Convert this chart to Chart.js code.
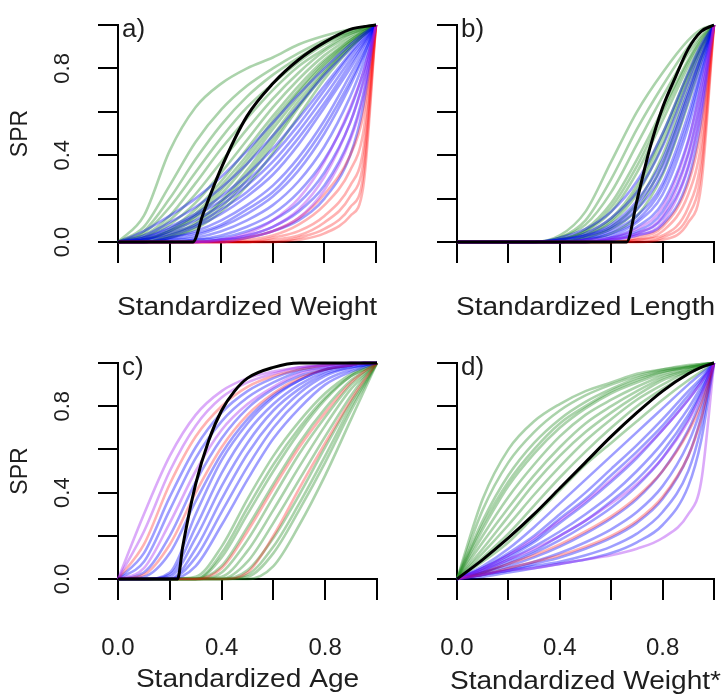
<!DOCTYPE html>
<html><head><meta charset="utf-8">
<script src="https://cdn.jsdelivr.net/npm/chart.js@4.4.1/dist/chart.umd.min.js"></script>
<style>
html,body{margin:0;padding:0;background:#fff;width:725px;height:700px;overflow:hidden;}
canvas{position:absolute;}
</style></head><body>
<canvas id="pa" width="380" height="330" style="left:0px;top:0px"></canvas>
<canvas id="pb" width="345" height="330" style="left:380px;top:0px"></canvas>
<canvas id="pc" width="380" height="360" style="left:0px;top:340px"></canvas>
<canvas id="pd" width="345" height="360" style="left:380px;top:340px"></canvas>
<script>
// ---------- shared grid and tick labels ----------
const xGrid = [0,0.1,0.2,0.3,0.4,0.5,0.6,0.7,0.8,0.9,0.95,1];
const xTickLabelValues = [0, 0.4, 0.8];
const yTickLabelValues = [0, 0.4, 0.8];
const xTitles = ['Standardized Weight','Standardized Length','Standardized Age','Standardized Weight*'];
const panelLetters = ['a)','b)','c)','d)'];
const yTitle = 'SPR';

// ---------- panel a ----------
const aGreen = [
 [0,0.12,0.42,0.62,0.73,0.80,0.85,0.91,0.95,0.98,0.99,1],
 [0,0.07,0.26,0.46,0.61,0.72,0.80,0.87,0.93,0.97,0.99,1],
 [0,0.05,0.20,0.38,0.54,0.67,0.77,0.85,0.92,0.97,0.99,1],
 [0,0.04,0.16,0.32,0.48,0.62,0.73,0.83,0.91,0.96,0.98,1],
 [0,0.03,0.12,0.27,0.43,0.57,0.70,0.81,0.89,0.96,0.98,1],
 [0,0.02,0.10,0.22,0.37,0.52,0.66,0.78,0.88,0.95,0.98,1],
 [0,0.02,0.08,0.18,0.32,0.47,0.62,0.75,0.86,0.94,0.97,1],
 [0,0.01,0.06,0.15,0.28,0.43,0.58,0.72,0.84,0.93,0.97,1],
 [0,0.01,0.05,0.13,0.26,0.40,0.56,0.70,0.83,0.93,0.97,1],
 [0,0.01,0.05,0.12,0.24,0.38,0.54,0.69,0.82,0.92,0.96,1],
 [0,0.01,0.04,0.11,0.22,0.36,0.52,0.67,0.81,0.92,0.96,1],
 [0,0,0.03,0.09,0.19,0.33,0.49,0.65,0.79,0.91,0.96,1],
 [0,0,0.03,0.08,0.18,0.31,0.47,0.63,0.78,0.90,0.95,1],
 [0,0,0.02,0.07,0.16,0.29,0.45,0.62,0.77,0.90,0.95,1],
 [0,0,0.02,0.06,0.14,0.26,0.41,0.58,0.75,0.89,0.95,1]
];
const aBlue = [
 [0,0.05,0.12,0.20,0.30,0.42,0.55,0.68,0.80,0.91,0.96,1],
 [0,0.03,0.09,0.16,0.25,0.36,0.49,0.63,0.77,0.89,0.95,1],
 [0,0.02,0.07,0.13,0.21,0.31,0.43,0.57,0.72,0.87,0.94,1],
 [0,0.02,0.06,0.12,0.19,0.28,0.40,0.54,0.70,0.86,0.93,1],
 [0,0.01,0.05,0.10,0.17,0.26,0.37,0.51,0.67,0.84,0.92,1],
 [0,0.01,0.04,0.08,0.15,0.23,0.34,0.48,0.64,0.82,0.91,1],
 [0,0.01,0.03,0.07,0.13,0.21,0.31,0.45,0.62,0.80,0.90,1],
 [0,0,0.02,0.05,0.10,0.17,0.26,0.39,0.56,0.77,0.88,1],
 [0,0,0.02,0.04,0.08,0.15,0.23,0.36,0.53,0.74,0.86,1],
 [0,0,0.01,0.03,0.07,0.13,0.21,0.33,0.50,0.72,0.85,1],
 [0,0,0.01,0.02,0.05,0.10,0.17,0.28,0.44,0.67,0.82,1],
 [0,0,0,0.01,0.03,0.07,0.13,0.23,0.38,0.61,0.78,1],
 [0,0,0,0.01,0.02,0.05,0.10,0.18,0.32,0.55,0.74,1],
 [0,0,0,0,0.01,0.03,0.07,0.14,0.26,0.48,0.68,1],
 [0,0,0,0,0.01,0.02,0.05,0.10,0.20,0.40,0.62,1]
];
const aRed = [
 [0,0,0,0,0,0.01,0.03,0.08,0.17,0.33,0.50,1],
 [0,0,0,0,0,0,0.02,0.05,0.12,0.26,0.42,1],
 [0,0,0,0,0,0,0.01,0.03,0.09,0.21,0.36,1],
 [0,0,0,0,0,0,0,0.02,0.06,0.16,0.30,1],
 [0,0,0,0,0,0,0,0.01,0.04,0.12,0.25,1],
 [0,0,0,0,0,0.02,0.05,0.11,0.22,0.40,0.58,1]
];
const aPurple = [
 [0,0,0,0,0.01,0.03,0.07,0.15,0.30,0.55,0.73,1],
 [0,0,0,0,0,0.02,0.05,0.11,0.24,0.47,0.66,1],
 [0,0,0,0,0.01,0.04,0.10,0.20,0.37,0.62,0.78,1]
];
const aBlackX = [0,0.1,0.2,0.29,0.33,0.4,0.5,0.6,0.7,0.8,0.9,1];
const aBlackY = [0,0,0,0,0.13,0.34,0.58,0.73,0.84,0.92,0.98,1];

// ---------- panel b ----------
const bGreen = [
 [0,0,0,0,0.03,0.14,0.37,0.60,0.78,0.93,0.98,1],
 [0,0,0,0,0.02,0.10,0.29,0.52,0.72,0.90,0.97,1],
 [0,0,0,0,0.02,0.08,0.23,0.45,0.67,0.87,0.95,1],
 [0,0,0,0,0.01,0.06,0.18,0.38,0.61,0.84,0.94,1],
 [0,0,0,0,0.01,0.05,0.16,0.35,0.59,0.83,0.93,1],
 [0,0,0,0,0.01,0.05,0.14,0.32,0.56,0.81,0.92,1],
 [0,0,0,0,0.01,0.04,0.11,0.26,0.50,0.78,0.90,1],
 [0,0,0,0,0,0.03,0.10,0.24,0.48,0.77,0.90,1],
 [0,0,0,0,0,0.03,0.09,0.22,0.45,0.75,0.89,1],
 [0,0,0,0,0,0.02,0.07,0.18,0.40,0.72,0.87,1],
 [0,0,0,0,0,0.02,0.06,0.15,0.36,0.68,0.85,1],
 [0,0,0,0,0,0.01,0.04,0.12,0.31,0.64,0.83,1]
];
const bBlue = [
 [0,0,0,0,0.02,0.06,0.14,0.28,0.50,0.78,0.91,1],
 [0,0,0,0,0.01,0.04,0.11,0.23,0.44,0.74,0.89,1],
 [0,0,0,0,0.01,0.03,0.08,0.19,0.38,0.70,0.86,1],
 [0,0,0,0,0.01,0.03,0.07,0.17,0.35,0.68,0.85,1],
 [0,0,0,0,0,0.02,0.06,0.15,0.32,0.65,0.83,1],
 [0,0,0,0,0,0.01,0.05,0.12,0.27,0.59,0.80,1],
 [0,0,0,0,0,0.01,0.04,0.10,0.25,0.56,0.78,1],
 [0,0,0,0,0,0.01,0.03,0.09,0.22,0.53,0.76,1],
 [0,0,0,0,0,0,0.02,0.07,0.18,0.47,0.72,1],
 [0,0,0,0,0,0,0.02,0.05,0.14,0.41,0.67,1],
 [0,0,0,0,0,0,0.01,0.04,0.11,0.35,0.62,1],
 [0,0,0,0,0,0,0.01,0.03,0.08,0.29,0.56,1]
];
const bRed = [
 [0,0,0,0,0,0,0,0.01,0.05,0.22,0.45,1],
 [0,0,0,0,0,0,0,0.01,0.03,0.16,0.38,1],
 [0,0,0,0,0,0,0,0,0.02,0.12,0.32,1],
 [0,0,0,0,0,0,0,0,0.01,0.09,0.26,1],
 [0,0,0,0,0,0,0,0.02,0.07,0.27,0.52,1]
];
const bPurple = [
 [0,0,0,0,0,0,0.01,0.04,0.12,0.40,0.66,1],
 [0,0,0,0,0,0,0.01,0.03,0.09,0.34,0.60,1],
 [0,0,0,0,0,0.01,0.02,0.06,0.16,0.46,0.72,1]
];
const bBlackX = [0,0.2,0.4,0.6,0.66,0.7,0.75,0.8,0.85,0.9,0.95,1];
const bBlackY = [0,0,0,0,0,0.19,0.43,0.62,0.76,0.89,0.97,1];

// ---------- panel c ----------
const cGreen = [
 [0,0,0,0.01,0.15,0.37,0.57,0.73,0.86,0.95,0.98,1],
 [0,0,0,0,0.12,0.33,0.53,0.70,0.84,0.94,0.97,1],
 [0,0,0,0,0.10,0.30,0.50,0.68,0.83,0.94,0.97,1],
 [0,0,0,0,0.06,0.24,0.44,0.63,0.79,0.92,0.96,1],
 [0,0,0,0,0.03,0.18,0.38,0.58,0.75,0.90,0.95,1],
 [0,0,0,0,0.01,0.13,0.32,0.52,0.71,0.88,0.94,1],
 [0,0,0,0,0,0.08,0.26,0.46,0.66,0.85,0.93,1],
 [0,0,0,0,0,0.04,0.19,0.39,0.61,0.82,0.91,1],
 [0,0,0,0,0,0.02,0.15,0.35,0.57,0.80,0.90,1],
 [0,0,0,0,0,0.01,0.12,0.32,0.54,0.78,0.89,1],
 [0,0,0,0,0,0,0.06,0.25,0.48,0.74,0.87,1]
];
const cBlue = [
 [0,0.12,0.38,0.61,0.77,0.87,0.93,0.97,0.99,1,1,1],
 [0,0.08,0.32,0.56,0.73,0.84,0.91,0.96,0.98,1,1,1],
 [0,0.03,0.20,0.45,0.65,0.79,0.88,0.94,0.97,0.99,1,1],
 [0,0.01,0.12,0.36,0.58,0.74,0.85,0.92,0.97,0.99,1,1],
 [0,0,0.03,0.30,0.55,0.72,0.84,0.92,0.97,0.99,1,1],
 [0,0,0.02,0.24,0.49,0.68,0.81,0.90,0.96,0.99,1,1],
 [0,0,0.01,0.19,0.43,0.63,0.78,0.88,0.95,0.98,0.99,1],
 [0,0,0,0.14,0.37,0.58,0.74,0.86,0.94,0.98,0.99,1],
 [0,0,0,0.10,0.31,0.52,0.70,0.83,0.92,0.97,0.99,1],
 [0,0,0,0.06,0.25,0.46,0.65,0.79,0.90,0.96,0.98,1]
];
const cRed = [
 [0,0.16,0.44,0.66,0.80,0.89,0.94,0.97,0.99,1,1,1],
 [0,0.02,0.16,0.40,0.61,0.76,0.86,0.93,0.97,0.99,1,1],
 [0,0,0,0,0,0.03,0.20,0.42,0.63,0.83,0.92,1],
 [0,0,0,0,0.05,0.22,0.42,0.61,0.77,0.91,0.96,1]
];
const cPurple = [
 [0,0.30,0.57,0.76,0.87,0.93,0.96,0.98,0.99,1,1,1],
 [0,0.22,0.50,0.71,0.84,0.91,0.95,0.98,0.99,1,1,1],
 [0,0.05,0.26,0.50,0.69,0.81,0.89,0.95,0.98,0.99,1,1]
];
const cBlackX = [0,0.1,0.2,0.23,0.25,0.3,0.35,0.4,0.45,0.5,0.6,0.7,0.8,1];
const cBlackY = [0,0,0,0,0.15,0.44,0.64,0.78,0.87,0.93,0.98,1,1,1];

// ---------- panel d ----------
const dGreen = [
 [0,0.37,0.60,0.73,0.81,0.87,0.91,0.95,0.97,0.985,0.995,1],
 [0,0.32,0.54,0.68,0.78,0.85,0.90,0.94,0.97,0.99,0.995,1],
 [0,0.27,0.48,0.63,0.74,0.82,0.88,0.93,0.96,0.98,0.99,1],
 [0,0.25,0.45,0.60,0.72,0.80,0.87,0.92,0.96,0.98,0.99,1],
 [0,0.23,0.43,0.58,0.70,0.79,0.86,0.91,0.95,0.98,0.99,1],
 [0,0.20,0.38,0.53,0.66,0.76,0.83,0.89,0.94,0.97,0.99,1],
 [0,0.17,0.33,0.48,0.61,0.72,0.80,0.87,0.93,0.97,0.99,1],
 [0,0.14,0.29,0.44,0.57,0.68,0.77,0.85,0.92,0.96,0.98,1],
 [0,0.12,0.25,0.39,0.52,0.64,0.74,0.83,0.90,0.96,0.98,1],
 [0,0.10,0.21,0.34,0.47,0.59,0.70,0.80,0.88,0.95,0.98,1],
 [0,0.08,0.17,0.29,0.41,0.53,0.63,0.73,0.83,0.92,0.96,1]
];
const dBlue = [
 [0,0.06,0.14,0.24,0.35,0.46,0.57,0.68,0.79,0.90,0.95,1],
 [0,0.05,0.12,0.20,0.30,0.40,0.51,0.62,0.74,0.87,0.93,1],
 [0,0.05,0.11,0.18,0.28,0.37,0.48,0.59,0.71,0.85,0.92,1],
 [0,0.04,0.10,0.17,0.26,0.35,0.45,0.56,0.69,0.83,0.91,1],
 [0,0.04,0.09,0.15,0.22,0.30,0.39,0.50,0.63,0.79,0.89,1],
 [0,0.03,0.08,0.13,0.20,0.27,0.36,0.46,0.59,0.76,0.87,1],
 [0,0.03,0.07,0.12,0.18,0.25,0.33,0.43,0.56,0.74,0.86,1],
 [0,0.03,0.06,0.10,0.15,0.21,0.28,0.37,0.50,0.69,0.83,1],
 [0,0.02,0.05,0.08,0.12,0.17,0.23,0.31,0.43,0.63,0.79,1],
 [0,0.02,0.04,0.07,0.10,0.14,0.19,0.26,0.37,0.57,0.75,1],
 [0,0.02,0.04,0.06,0.08,0.11,0.15,0.21,0.31,0.50,0.70,1],
 [0,0.01,0.03,0.05,0.07,0.09,0.12,0.17,0.25,0.43,0.64,1]
];
const dRed = [
 [0,0.03,0.07,0.11,0.16,0.22,0.29,0.38,0.50,0.68,0.81,1],
 [0,0.02,0.05,0.08,0.11,0.15,0.20,0.27,0.38,0.57,0.74,1]
];
const dPurple = [
 [0,0.02,0.04,0.05,0.07,0.09,0.11,0.14,0.19,0.30,0.45,1],
 [0,0.04,0.09,0.14,0.20,0.27,0.35,0.44,0.56,0.73,0.85,1],
 [0,0.05,0.11,0.19,0.27,0.36,0.46,0.57,0.69,0.83,0.91,1]
];
const dBlackX = xGrid;
const dBlackY = [0,0.09,0.19,0.30,0.42,0.54,0.66,0.77,0.87,0.95,0.98,1];

// ---------- styles ----------
const COL = {
  green: 'rgba(34,139,34,0.38)',
  blue: 'rgba(0,0,255,0.38)',
  red: 'rgba(255,0,0,0.30)',
  purple: 'rgba(160,32,240,0.38)',
  black: '#000'
};
const FONT = '"Liberation Sans", Arial, sans-serif';
const TXT = '#1e1e1e';

function ds(xs, ys, color, width, order) {
  return {
    data: xs.map((x, i) => ({x: x, y: ys[i]})),
    borderColor: color, borderWidth: width, pointRadius: 0,
    cubicInterpolationMode: 'monotone', fill: false, order: order, clip: 6
  };
}
function buildSets(green, blue, red, purple, bx, by) {
  const out = [ds(bx, by, COL.black, 3, 0)];
  purple.forEach(c => out.push(ds(xGrid, c, COL.purple, 2.6, 1)));
  red.forEach(c => out.push(ds(xGrid, c, COL.red, 2.6, 2)));
  blue.forEach(c => out.push(ds(xGrid, c, COL.blue, 2.6, 3)));
  green.forEach(c => out.push(ds(xGrid, c, COL.green, 2.6, 4)));
  return out;
}

const textPlugin = {
  id: 'panelText',
  afterDraw(chart, args, o) {
    const ctx = chart.ctx, a = chart.chartArea, ys = chart.scales.y;
    ctx.save();
    ctx.fillStyle = TXT;
    ctx.font = '26px ' + FONT;
    ctx.textAlign = 'left'; ctx.textBaseline = 'alphabetic';
    ctx.fillText(o.letter, a.left + 4, a.top + 12);
    if (o.yLabels) {
      ctx.font = '22px ' + FONT;
      ctx.textAlign = 'center'; ctx.textBaseline = 'middle';
      yTickLabelValues.forEach(v => {
        ctx.save();
        ctx.translate(a.left - 55, ys.getPixelForValue(v));
        ctx.rotate(-Math.PI / 2);
        ctx.fillText(v.toFixed(1), 0, 0);
        ctx.restore();
      });
    }
    ctx.font = '26px ' + FONT;
    ctx.textAlign = 'center'; ctx.textBaseline = 'middle';
    ctx.save();
    ctx.translate((a.left + a.right) / 2, o.titleY);
    ctx.scale(1.08, 1);
    ctx.fillText(o.xTitle, 0, 0);
    ctx.restore();
    ctx.restore();
  }
};

function makePanel(id, sets, g) {
  new Chart(document.getElementById(id), {
    type: 'line',
    data: {datasets: sets},
    plugins: [textPlugin],
    options: {
      responsive: false, animation: false, devicePixelRatio: 1,
      layout: {padding: {top: g.padTop, right: g.padRight, left: 0, bottom: 0}},
      plugins: {
        legend: {display: false}, tooltip: {enabled: false},
        panelText: {letter: g.letter, yLabels: g.yLabels, xTitle: g.xTitle, titleY: g.titleY}
      },
      scales: {
        x: {
          type: 'linear', min: 0, max: 1,
          afterFit: s => { s.height = g.xHeight; },
          border: {display: true, color: '#000', width: 2},
          grid: {drawOnChartArea: false, drawTicks: true, tickLength: 21, color: '#000', lineWidth: 2},
          ticks: {
            display: g.xLabels, stepSize: 0.2, autoSkip: false, maxRotation: 0, padding: 3,
            color: TXT, font: {family: FONT, size: 24, lineHeight: 3.8},
            callback: v => xTickLabelValues.some(t => Math.abs(t - v) < 1e-9) ? v.toFixed(1) : ''
          }
        },
        y: {
          type: 'linear', min: 0, max: 1,
          afterFit: s => { s.width = g.yWidth; },
          border: {display: true, color: '#000', width: 2},
          grid: {drawOnChartArea: false, drawTicks: true, tickLength: 20, color: '#000', lineWidth: 2},
          ticks: {display: false, stepSize: 0.2},
          title: {display: g.yLabels, text: yTitle, color: TXT, font: {family: FONT, size: 23}, padding: {top: 7, bottom: 0}}
        }
      }
    }
  });
}

makePanel('pa', buildSets(aGreen, aBlue, aRed, aPurple, aBlackX, aBlackY),
  {padTop: 25, padRight: 4, xHeight: 88, yWidth: 118, letter: panelLetters[0], yLabels: true, xLabels: false, xTitle: xTitles[0], titleY: 307.5});
makePanel('pb', buildSets(bGreen, bBlue, bRed, bPurple, bBlackX, bBlackY),
  {padTop: 25, padRight: 11, xHeight: 88, yWidth: 77, letter: panelLetters[1], yLabels: false, xLabels: false, xTitle: xTitles[1], titleY: 307.5});
makePanel('pc', buildSets(cGreen, cBlue, cRed, cPurple, cBlackX, cBlackY),
  {padTop: 23, padRight: 3, xHeight: 121, yWidth: 118, letter: panelLetters[2], yLabels: true, xLabels: true, xTitle: xTitles[2], titleY: 340});
makePanel('pd', buildSets(dGreen, dBlue, dRed, dPurple, dBlackX, dBlackY),
  {padTop: 23, padRight: 11, xHeight: 121, yWidth: 77, letter: panelLetters[3], yLabels: false, xLabels: true, xTitle: xTitles[3], titleY: 342});
</script>
</body></html>
